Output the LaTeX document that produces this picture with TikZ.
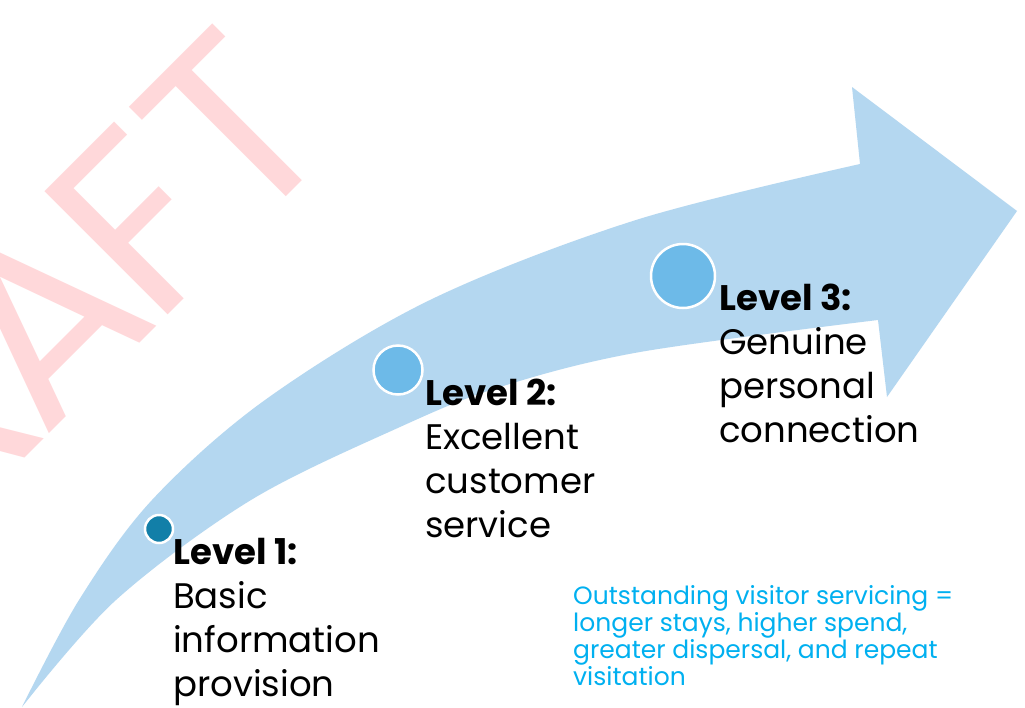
\documentclass[tikz,border=0pt]{standalone}
\usepackage{fontspec}
\setmainfont{Poppins}
\definecolor{arrowblue}{RGB}{180,215,240}
\definecolor{dotblue}{RGB}{109,186,232}
\definecolor{dotdark}{RGB}{18,127,168}
\definecolor{noteblue}{RGB}{0,176,240}
\definecolor{wmpink}{RGB}{255,216,218}
\tikzset{
  dot/.style={circle, draw=white, line width=2.5pt, inner sep=0pt, minimum size=#1},
  leveltext/.style={anchor=base west, inner sep=0pt, align=left, text=black,
    font=\fontsize{35.5}{44}\selectfont},
  notetext/.style={anchor=base west, inner sep=0pt, align=left, text=noteblue,
    font=\fontsize{25}{26.8}\selectfont},
}
\begin{document}
\begin{tikzpicture}[x=1pt,y=-1pt]
\clip (0,0) rectangle (1025,707);
\fill[white] (0,0) rectangle (1025,707);
% watermark
\node[rotate=45, anchor=base east, inner sep=0pt, text=wmpink,
  font=\fontsize{250}{250}\selectfont] (wm) at (342,141)
  {D\kern-14pt R\kern-14pt A\kern-12pt F\kern4pt T};
% arrow
\fill[arrowblue]
  plot[smooth, tension=0.55] coordinates {(22,707) (79,600) (152,500) (265,400) (430,300) (636,220) (860,164)}
  -- (852,87) -- (1017,211) -- (887,397) -- (878,320)
  -- plot[smooth, tension=0.55] coordinates {(878,320) (640,352) (500,387) (400,427) (251,500) (116,600) (22,707)}
  -- cycle;
% dots
\node[dot=28pt, fill=dotdark] (c1) at (159,529) {};
\node[dot=49pt, fill=dotblue] (c2) at (398,370) {};
\node[dot=64pt, fill=dotblue] (c3) at (683,276) {};
% texts
\node[leveltext] (t1) at (173,696) {\textbf{Level 1:}\\Basic\\information\\provision};
\node[leveltext] (t2) at (425,537) {\textbf{Level 2:}\\Excellent\\customer\\service};
\node[leveltext] (t3) at (719,442) {\textbf{Level 3:}\\Genuine\\personal\\connection};
\node[notetext] (note) at (573,685) {Outstanding visitor servicing =\\longer stays, higher spend,\\greater dispersal, and repeat\\visitation};
\end{tikzpicture}
\end{document}
